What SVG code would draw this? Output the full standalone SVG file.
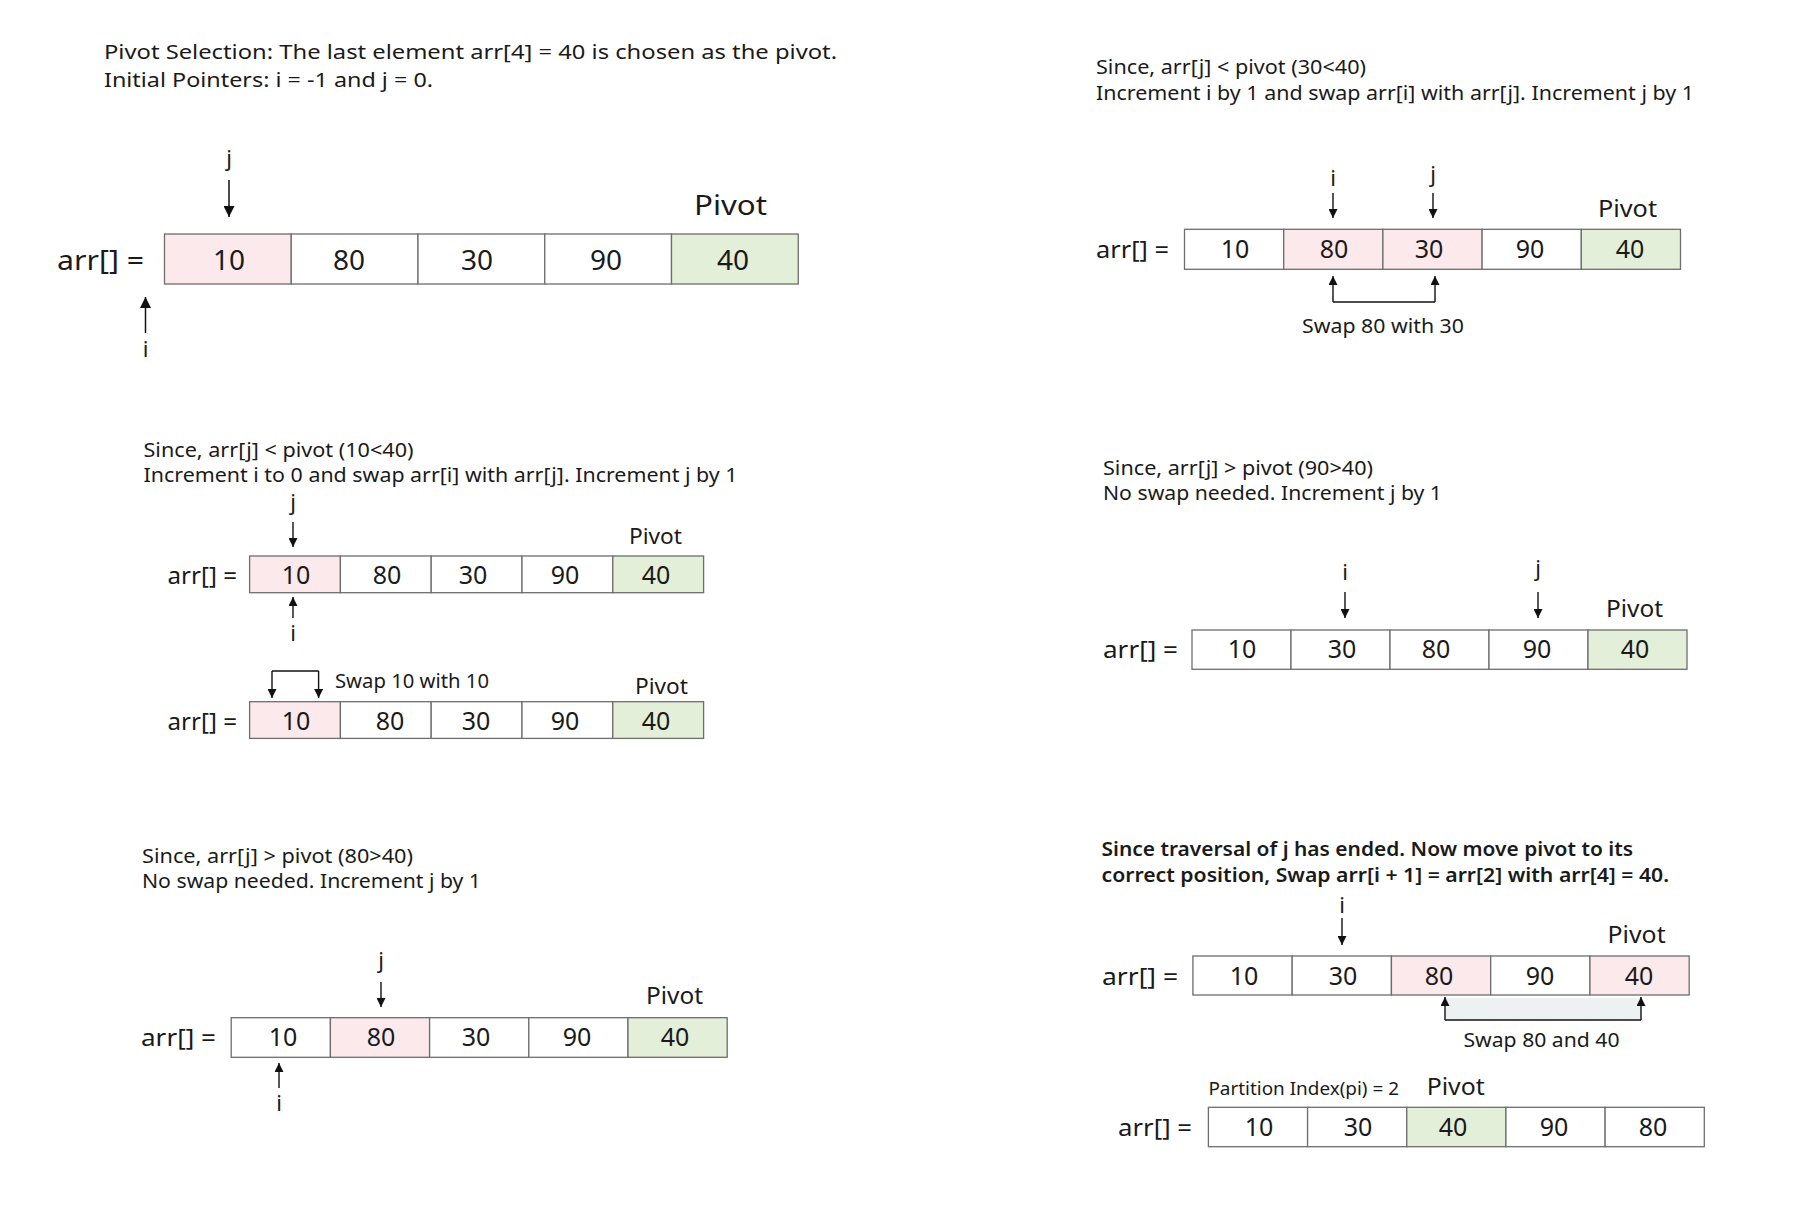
<svg xmlns="http://www.w3.org/2000/svg" width="1816" height="1207" viewBox="0 0 1816 1207">
<style>
text{font-family:"Noto Sans","Open Sans","Liberation Sans",sans-serif;fill:#1a1a1a}
.d{font-size:20px}
.h{font-size:20px;font-weight:600}
.lb{font-size:22px}
.pv{font-size:24px}
.pvL{font-size:28px}
.n{font-size:25px;text-anchor:middle}
.nL{font-size:28px;text-anchor:middle}
.ptr{font-size:22px;text-anchor:middle}
.sw{font-size:20px}
.c{fill:#ffffff;stroke:#6e6e6e;stroke-width:1.3}
.pk{fill:#fbe9ec}
.gr{fill:#e3efd9}
.ar{stroke:#111;stroke-width:1.4;fill:none}
.arL{stroke:#111;stroke-width:1.5;fill:none}
</style>
<defs>
<marker id="ah" viewBox="0 0 10 10" refX="10" refY="5" markerWidth="10" markerHeight="9" markerUnits="userSpaceOnUse" orient="auto"><path d="M0,0 L10,5 L0,10 z" fill="#111"/></marker>
<marker id="ahL" viewBox="0 0 10 10" refX="10" refY="5" markerWidth="12" markerHeight="11" markerUnits="userSpaceOnUse" orient="auto"><path d="M0,0 L10,5 L0,10 z" fill="#111"/></marker>
</defs>
<rect width="1816" height="1207" fill="#ffffff"/>

<!-- Section 1 -->
<g id="s1">
<text class="d" x="104" y="59" textLength="733" lengthAdjust="spacingAndGlyphs">Pivot Selection: The last element arr[4] = 40 is chosen as the pivot.</text>
<text class="d" x="104" y="87" textLength="329" lengthAdjust="spacingAndGlyphs">Initial Pointers: i = -1 and j = 0.</text>
<text class="ptr" x="229" y="166">j</text>
<text class="pvL" x="694" y="215" textLength="73" lengthAdjust="spacingAndGlyphs">Pivot</text>
<text class="pvL" x="57" y="270" textLength="87" lengthAdjust="spacingAndGlyphs">arr[] =</text>
<g id="s1-arr">
<rect class="c pk" x="164.5" y="234" width="126.75" height="50"/>
<rect class="c" x="291.25" y="234" width="126.75" height="50"/>
<rect class="c" x="418" y="234" width="126.75" height="50"/>
<rect class="c" x="544.75" y="234" width="126.75" height="50"/>
<rect class="c gr" x="671.5" y="234" width="126.75" height="50"/>
<text class="nL" x="229" y="270">10</text>
<text class="nL" x="349" y="270">80</text>
<text class="nL" x="477" y="270">30</text>
<text class="nL" x="606" y="270">90</text>
<text class="nL" x="733" y="270">40</text>
</g>
<text class="ptr" x="145.5" y="357">i</text>
</g>

<!-- Section 2 -->
<g id="s2">
<text class="d" x="1096" y="74" textLength="270" lengthAdjust="spacingAndGlyphs">Since, arr[j] &lt; pivot (30&lt;40)</text>
<text class="d" x="1096" y="100" textLength="598" lengthAdjust="spacingAndGlyphs">Increment i by 1 and swap arr[i] with arr[j]. Increment j by 1</text>
<text class="ptr" x="1333" y="186">i</text>
<text class="ptr" x="1433" y="182">j</text>
<text class="pv" x="1598" y="217" textLength="59" lengthAdjust="spacingAndGlyphs">Pivot</text>
<text class="pv" x="1096" y="258" textLength="73" lengthAdjust="spacingAndGlyphs">arr[] =</text>
<g id="s2-arr">
<rect class="c" x="1184.5" y="229.3" width="99.2" height="40"/>
<rect class="c pk" x="1283.7" y="229.3" width="99.2" height="40"/>
<rect class="c pk" x="1382.9" y="229.3" width="99.2" height="40"/>
<rect class="c" x="1482.1" y="229.3" width="99.2" height="40"/>
<rect class="c gr" x="1581.3" y="229.3" width="99.2" height="40"/>
<text class="n" x="1235" y="258">10</text>
<text class="n" x="1334" y="258">80</text>
<text class="n" x="1429" y="258">30</text>
<text class="n" x="1530" y="258">90</text>
<text class="n" x="1630" y="258">40</text>
</g>
<text class="sw" x="1302" y="333" textLength="162" lengthAdjust="spacingAndGlyphs">Swap 80 with 30</text>
</g>

<!-- Section 3 -->
<g id="s3">
<text class="d" x="143.5" y="457" textLength="270" lengthAdjust="spacingAndGlyphs">Since, arr[j] &lt; pivot (10&lt;40)</text>
<text class="d" x="143.5" y="482" textLength="594" lengthAdjust="spacingAndGlyphs">Increment i to 0 and swap arr[i] with arr[j]. Increment j by 1</text>
<text class="ptr" x="293" y="510">j</text>
<text class="lb" x="629" y="544" textLength="53" lengthAdjust="spacingAndGlyphs">Pivot</text>
<text class="pv" x="167.5" y="584" textLength="69.5" lengthAdjust="spacingAndGlyphs">arr[] =</text>
<g id="s3-arr1">
<rect class="c pk" x="249.6" y="556" width="90.8" height="36.7"/>
<rect class="c" x="340.4" y="556" width="90.8" height="36.7"/>
<rect class="c" x="431.2" y="556" width="90.8" height="36.7"/>
<rect class="c" x="522" y="556" width="90.8" height="36.7"/>
<rect class="c gr" x="612.8" y="556" width="90.8" height="36.7"/>
<text class="n" x="296" y="584">10</text>
<text class="n" x="387" y="584">80</text>
<text class="n" x="473" y="584">30</text>
<text class="n" x="565" y="584">90</text>
<text class="n" x="656" y="584">40</text>
</g>
<text class="ptr" x="293" y="641">i</text>
<text class="sw" x="335" y="688" textLength="154" lengthAdjust="spacingAndGlyphs">Swap 10 with 10</text>
<text class="lb" x="635" y="694" textLength="53" lengthAdjust="spacingAndGlyphs">Pivot</text>
<text class="pv" x="167.5" y="730" textLength="69.5" lengthAdjust="spacingAndGlyphs">arr[] =</text>
<g id="s3-arr2">
<rect class="c pk" x="249.6" y="701.7" width="90.8" height="36.7"/>
<rect class="c" x="340.4" y="701.7" width="90.8" height="36.7"/>
<rect class="c" x="431.2" y="701.7" width="90.8" height="36.7"/>
<rect class="c" x="522" y="701.7" width="90.8" height="36.7"/>
<rect class="c gr" x="612.8" y="701.7" width="90.8" height="36.7"/>
<text class="n" x="296" y="730">10</text>
<text class="n" x="390" y="730">80</text>
<text class="n" x="476" y="730">30</text>
<text class="n" x="565" y="730">90</text>
<text class="n" x="656" y="730">40</text>
</g>
</g>

<!-- Section 4 -->
<g id="s4">
<text class="d" x="1103" y="475" textLength="270" lengthAdjust="spacingAndGlyphs">Since, arr[j] &gt; pivot (90&gt;40)</text>
<text class="d" x="1103" y="500" textLength="339" lengthAdjust="spacingAndGlyphs">No swap needed. Increment j by 1</text>
<text class="ptr" x="1345" y="580">i</text>
<text class="ptr" x="1538" y="576">j</text>
<text class="pv" x="1606" y="617" textLength="57" lengthAdjust="spacingAndGlyphs">Pivot</text>
<text class="pv" x="1103" y="658" textLength="75" lengthAdjust="spacingAndGlyphs">arr[] =</text>
<g id="s4-arr">
<rect class="c" x="1192" y="630" width="99" height="39.3"/>
<rect class="c" x="1291" y="630" width="99" height="39.3"/>
<rect class="c" x="1390" y="630" width="99" height="39.3"/>
<rect class="c" x="1489" y="630" width="99" height="39.3"/>
<rect class="c gr" x="1588" y="630" width="99" height="39.3"/>
<text class="n" x="1242" y="658">10</text>
<text class="n" x="1342" y="658">30</text>
<text class="n" x="1436" y="658">80</text>
<text class="n" x="1537" y="658">90</text>
<text class="n" x="1635" y="658">40</text>
</g>
</g>

<!-- Section 5 -->
<g id="s5">
<text class="d" x="142" y="863" textLength="271" lengthAdjust="spacingAndGlyphs">Since, arr[j] &gt; pivot (80&gt;40)</text>
<text class="d" x="142" y="888" textLength="339" lengthAdjust="spacingAndGlyphs">No swap needed. Increment j by 1</text>
<text class="ptr" x="381" y="968">j</text>
<text class="pv" x="646" y="1004" textLength="57" lengthAdjust="spacingAndGlyphs">Pivot</text>
<text class="pv" x="141" y="1046" textLength="75" lengthAdjust="spacingAndGlyphs">arr[] =</text>
<g id="s5-arr">
<rect class="c" x="231.2" y="1017.7" width="99.2" height="39.6"/>
<rect class="c pk" x="330.4" y="1017.7" width="99.2" height="39.6"/>
<rect class="c" x="429.6" y="1017.7" width="99.2" height="39.6"/>
<rect class="c" x="528.8" y="1017.7" width="99.2" height="39.6"/>
<rect class="c gr" x="628" y="1017.7" width="99.2" height="39.6"/>
<text class="n" x="283" y="1046">10</text>
<text class="n" x="381" y="1046">80</text>
<text class="n" x="476" y="1046">30</text>
<text class="n" x="577" y="1046">90</text>
<text class="n" x="675" y="1046">40</text>
</g>
<text class="ptr" x="279" y="1111">i</text>
</g>

<!-- Section 6 -->
<g id="s6">
<text class="h" x="1101.5" y="856" textLength="531.5" lengthAdjust="spacingAndGlyphs">Since traversal of j has ended. Now move pivot to its</text>
<text class="h" x="1101.5" y="882" textLength="567.5" lengthAdjust="spacingAndGlyphs">correct position, Swap arr[i + 1] = arr[2] with arr[4] = 40.</text>
<text class="ptr" x="1342" y="913">i</text>
<text class="pv" x="1607.6" y="943" textLength="58" lengthAdjust="spacingAndGlyphs">Pivot</text>
<text class="pv" x="1102" y="985" textLength="76" lengthAdjust="spacingAndGlyphs">arr[] =</text>
<g id="s6-arr1">
<rect class="c" x="1192.9" y="956" width="99.26" height="39"/>
<rect class="c" x="1292.16" y="956" width="99.26" height="39"/>
<rect class="c pk" x="1391.42" y="956" width="99.26" height="39"/>
<rect class="c" x="1490.68" y="956" width="99.26" height="39"/>
<rect class="c pk" x="1589.94" y="956" width="99.26" height="39"/>
<text class="n" x="1244" y="985">10</text>
<text class="n" x="1343" y="985">30</text>
<text class="n" x="1439" y="985">80</text>
<text class="n" x="1540" y="985">90</text>
<text class="n" x="1639" y="985">40</text>
</g>
<rect id="s6-swapbox" x="1445" y="998" width="196" height="22" fill="#eef1f1"/>
<text class="sw" x="1463.5" y="1047" textLength="156" lengthAdjust="spacingAndGlyphs">Swap 80 and 40</text>
<text x="1208.4" y="1095" style="font-size:18px" textLength="190.6" lengthAdjust="spacingAndGlyphs">Partition Index(pi) = 2</text>
<text class="pv" x="1426.7" y="1095" textLength="58" lengthAdjust="spacingAndGlyphs">Pivot</text>
<text class="pv" x="1118" y="1136" textLength="74" lengthAdjust="spacingAndGlyphs">arr[] =</text>
<g id="s6-arr2">
<rect class="c" x="1208.4" y="1107.3" width="99.18" height="39.4"/>
<rect class="c" x="1307.58" y="1107.3" width="99.18" height="39.4"/>
<rect class="c gr" x="1406.76" y="1107.3" width="99.18" height="39.4"/>
<rect class="c" x="1505.94" y="1107.3" width="99.18" height="39.4"/>
<rect class="c" x="1605.12" y="1107.3" width="99.18" height="39.4"/>
<text class="n" x="1259" y="1136">10</text>
<text class="n" x="1358" y="1136">30</text>
<text class="n" x="1453" y="1136">40</text>
<text class="n" x="1554" y="1136">90</text>
<text class="n" x="1653" y="1136">80</text>
</g>
</g>

<!-- Connectors -->
<g id="connectors">
<path class="arL" d="M229,180 V217" marker-end="url(#ahL)"/>
<path class="arL" d="M145.5,333 V297" marker-end="url(#ahL)"/>

<path class="ar" d="M1333,193 V218" marker-end="url(#ah)"/>
<path class="ar" d="M1433,193 V218" marker-end="url(#ah)"/>
<path class="ar" d="M1333,302 H1435"/>
<path class="ar" d="M1333,302 V276" marker-end="url(#ah)"/>
<path class="ar" d="M1435,302 V276" marker-end="url(#ah)"/>

<path class="ar" d="M293,522 V547" marker-end="url(#ah)"/>
<path class="ar" d="M293,618 V597" marker-end="url(#ah)"/>
<path class="ar" d="M272,671 H318.6"/>
<path class="ar" d="M272,671 V698" marker-end="url(#ah)"/>
<path class="ar" d="M318.6,671 V698" marker-end="url(#ah)"/>

<path class="ar" d="M1345,592 V618" marker-end="url(#ah)"/>
<path class="ar" d="M1538,592 V618" marker-end="url(#ah)"/>

<path class="ar" d="M381,982 V1007" marker-end="url(#ah)"/>
<path class="ar" d="M279,1088 V1063" marker-end="url(#ah)"/>

<path class="ar" d="M1342,918 V945" marker-end="url(#ah)"/>
<path class="ar" d="M1445,1020 H1641"/>
<path class="ar" d="M1445,1020 V997" marker-end="url(#ah)"/>
<path class="ar" d="M1641,1020 V997" marker-end="url(#ah)"/>
</g>
</svg>
